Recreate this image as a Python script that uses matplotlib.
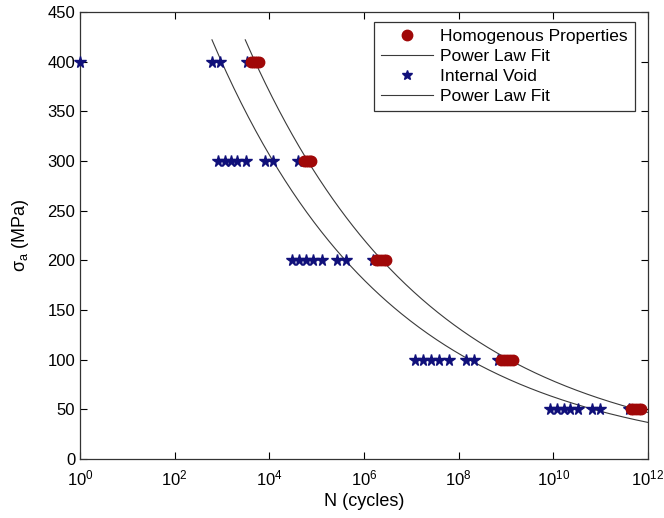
import numpy as np
import matplotlib
matplotlib.use("Agg")
import matplotlib.pyplot as plt

plt.rcParams['font.family'] = ['Liberation Sans', 'DejaVu Sans']
plt.rcParams['mathtext.fontset'] = 'custom'
plt.rcParams['mathtext.rm'] = 'Liberation Sans'
plt.rcParams['mathtext.it'] = 'Liberation Sans:italic'

# stress amplitude levels (MPa)
stress_levels = [400, 300, 200, 100, 50]

# homogenous properties: cycles to failure at each level (log10 N)
homog_logN = [
    [3.61, 3.65, 3.69, 3.74, 3.78],
    [4.73, 4.77, 4.81, 4.85, 4.88],
    [6.25, 6.30, 6.36, 6.42, 6.47],
    [8.90, 8.96, 9.02, 9.09, 9.15],
    [11.64, 11.69, 11.74, 11.80, 11.85],
]

# internal void: cycles to failure at each level (log10 N)
void_logN = [
    [0.0, 2.78, 2.96, 3.52],
    [2.92, 3.06, 3.18, 3.32, 3.50, 3.91, 4.08, 4.61],
    [4.48, 4.63, 4.78, 4.93, 5.11, 5.43, 5.62, 6.19],
    [7.08, 7.25, 7.42, 7.58, 7.80, 8.16, 8.32, 8.83],
    [9.93, 10.08, 10.22, 10.36, 10.53, 10.82, 10.99, 11.60],
]

# power law fits sigma = A * N^b
homog_A, homog_b = 1040.0, -0.1122
void_A, void_b = 883.0, -0.115
fit_top = 422.0

fig = plt.figure(figsize=(6.64, 5.18), dpi=100)
ax = fig.add_axes([80 / 664, 1 - 459 / 518, 568 / 664, 447 / 518])

hx, hy = [], []
for s, row in zip(stress_levels, homog_logN):
    for v in row:
        hx.append(10 ** v)
        hy.append(s)
vx, vy = [], []
for s, row in zip(stress_levels, void_logN):
    for v in row:
        vx.append(10 ** v)
        vy.append(s)

N_h = np.logspace(np.log10((fit_top / homog_A) ** (1 / homog_b)), 12, 300)
N_v = np.logspace(np.log10((fit_top / void_A) ** (1 / void_b)), 12, 300)

star_col = '#10107a'
dot_col = '#a00808'
line_col = '#3a3a3a'

ax.plot(vx, vy, '*', color=star_col, markersize=8.5, linestyle='none', clip_on=False, zorder=3)
ax.plot(hx, hy, 'o', color=dot_col, markeredgecolor=dot_col, markersize=7.5, linestyle='none',
        clip_on=False, zorder=4, label='Homogenous Properties')
ax.plot(N_h, homog_A * N_h ** homog_b, color=line_col, linewidth=0.8, label='Power Law Fit')
ax.plot([], [], '*', color=star_col, markersize=7, linestyle='none', label='Internal Void')
ax.plot(N_v, void_A * N_v ** void_b, color=line_col, linewidth=0.8, label='Power Law Fit')

ax.set_xscale('log')
ax.set_xlim(1, 1e12)
ax.set_ylim(0, 450)
ax.set_xticks([10 ** k for k in range(0, 13, 2)])
ax.xaxis.set_minor_locator(matplotlib.ticker.NullLocator())
ax.set_yticks(range(0, 451, 50))
ax.tick_params(direction='in', top=True, right=True, length=5, width=0.8, labelsize=12)
ax.tick_params(axis='x', pad=7)
for sp in ax.spines.values():
    sp.set_linewidth(0.9)
    sp.set_color('#333333')
ax.set_xlabel('N (cycles)', fontsize=13, labelpad=3)
ax.set_ylabel(r'$\mathregular{\sigma_a}$ (MPa)', fontsize=13, labelpad=12)

leg = ax.legend(loc='upper right', bbox_to_anchor=(635 / 664, 1 - 22 / 518),
                bbox_transform=fig.transFigure, borderaxespad=0,
                numpoints=1, fontsize=12.5, fancybox=False,
                edgecolor='#333333', framealpha=1, borderpad=0.4, labelspacing=0.28,
                handlelength=3.0, handletextpad=0.4)
leg.get_frame().set_linewidth(0.9)

fig.savefig('out.png', dpi=100)
